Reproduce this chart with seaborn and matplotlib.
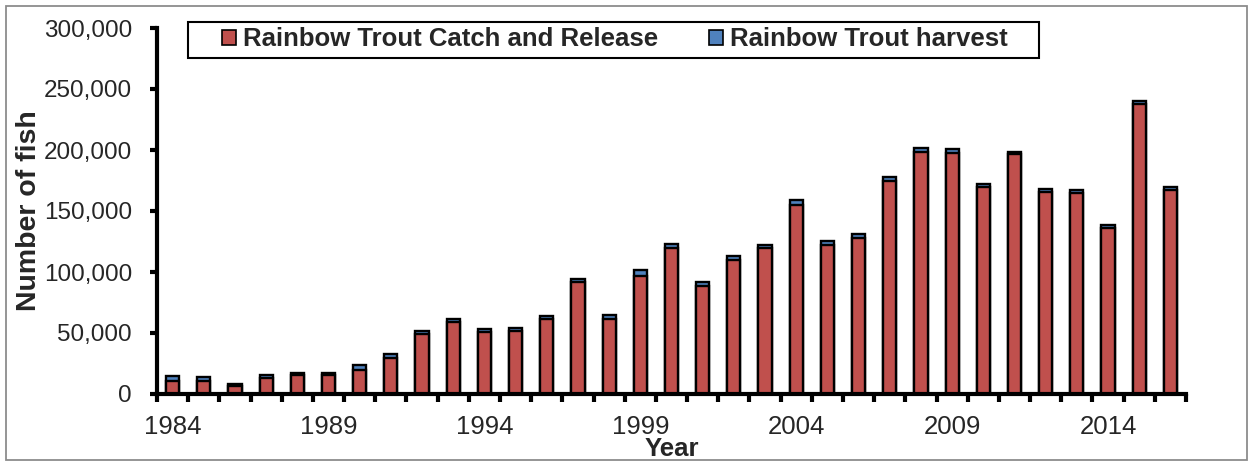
import matplotlib
matplotlib.use("Agg")
import matplotlib.pyplot as plt
from matplotlib.patches import Rectangle, Patch
from matplotlib.ticker import FuncFormatter, FixedLocator
import numpy as np
import pandas as pd
import seaborn as sns

years = list(range(1984, 2017))
catch_release = [11000, 11000, 6500, 13500, 15500, 15500, 20000, 29400, 49300, 58800,
                 51200, 52000, 61800, 91700, 61800, 97000, 119300, 88500, 110000, 119500,
                 155000, 122300, 128000, 174800, 198300, 197700, 169900, 196600, 165900,
                 164800, 136200, 237700, 167200]
harvest = [4000, 3000, 2000, 2000, 2000, 1600, 3500, 3300, 2500, 2800,
           2000, 2500, 1800, 2600, 2800, 4300, 3800, 3000, 3300, 2500,
           3800, 3300, 3300, 3300, 3600, 3000, 2300, 2000, 2500, 2400,
           2200, 2800, 2500]
tick_years = [1984, 1989, 1994, 1999, 2004, 2009, 2014]
series_names = ["Rainbow Trout Catch and Release", "Rainbow Trout harvest"]

red = "#C0504D"
blue = "#4F81BD"

df = pd.DataFrame({"year": years, "cr": catch_release, "harvest": harvest})
df["total"] = df["cr"] + df["harvest"]

sns.set_theme(style="white")
plt.rcParams["font.family"] = ["Liberation Sans", "DejaVu Sans"]

W, H = 1253, 466
fig = plt.figure(figsize=(W / 100, H / 100), dpi=100)
ax = fig.add_axes([157 / W, 1 - 394 / H, (1186 - 157) / W, (394 - 28) / H])

# harvest stacked on top of catch-and-release: draw the total, then the lower segment
sns.barplot(data=df, x="year", y="total", color=blue, saturation=1, width=0.42,
            edgecolor="black", linewidth=1.7, ax=ax)
sns.barplot(data=df, x="year", y="cr", color=red, saturation=1, width=0.42,
            edgecolor="black", linewidth=1.7, ax=ax)

ax.set_xlim(-0.5, len(years) - 0.5)
ax.set_ylim(0, 300000)
ax.set_yticks(np.arange(0, 300001, 50000))
ax.yaxis.set_major_formatter(FuncFormatter(lambda v, p: f"{int(v):,}"))

pos = [years.index(y) for y in tick_years]
ax.xaxis.set_major_locator(FixedLocator(pos))
ax.set_xticklabels([str(y) for y in tick_years])
ax.xaxis.set_minor_locator(FixedLocator(np.arange(-0.5, len(years), 1.0)))
ax.tick_params(axis="x", which="major", length=0, pad=15, labelsize=18.5)
ax.tick_params(axis="x", which="minor", bottom=True, length=6, width=3, color="black",
               direction="out")
ax.tick_params(axis="y", which="major", left=True, length=5, width=3, color="black",
               direction="out", labelsize=17.5, pad=13)

for side in ["top", "right"]:
    ax.spines[side].set_visible(False)
for side in ["left", "bottom"]:
    ax.spines[side].set_color("black")
    ax.spines[side].set_linewidth(3)

ax.set_xlabel("Year", fontsize=18.5, fontweight="bold", labelpad=-1)
ax.set_ylabel("Number of fish", fontsize=20.5, fontweight="bold", labelpad=1)

# legend entries without a frame; the frame is drawn as its own rectangle
handles = [Patch(facecolor=red, edgecolor="black", linewidth=1.2),
           Patch(facecolor=blue, edgecolor="black", linewidth=1.2)]
leg = fig.legend(handles, series_names, ncol=2, loc="center left",
                 bbox_to_anchor=(222 / W, 1 - 39.5 / H),
                 bbox_transform=fig.transFigure, frameon=False,
                 prop={"weight": "bold", "size": 18.5}, handlelength=0.55,
                 handleheight=0.55, handletextpad=0.25, columnspacing=2.0,
                 borderpad=0, borderaxespad=0)
fig.patches.append(Rectangle((188 / W, 1 - 57.5 / H), (1039 - 188) / W, 36 / H,
                             transform=fig.transFigure, fill=False,
                             edgecolor="black", linewidth=1.5))

fig.patches.append(Rectangle((6 / W, 6 / H), (W - 12) / W, (H - 12) / H,
                             transform=fig.transFigure, fill=False,
                             edgecolor="#8c8c8c", linewidth=1.3))

fig.savefig("out.png", dpi=100, facecolor="white")
